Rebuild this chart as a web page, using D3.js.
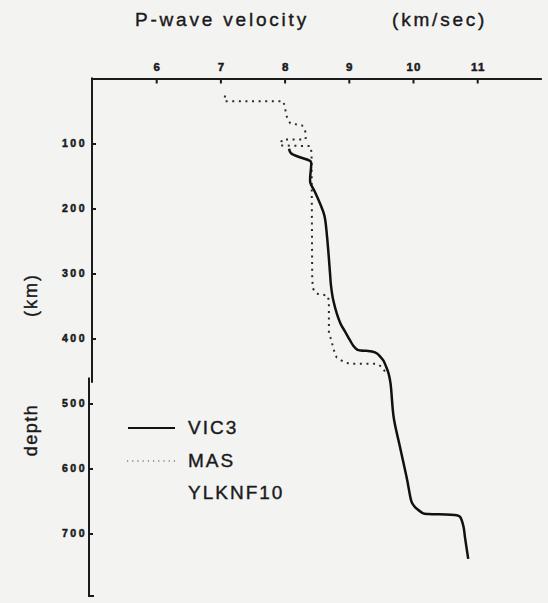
<!DOCTYPE html>
<html>
<head>
<meta charset="utf-8">
<script src="https://cdn.jsdelivr.net/npm/d3@7/dist/d3.min.js"></script>
<style>
  html, body { margin: 0; padding: 0; background: #f3f3f2; }
  svg { display: block; }
  text { font-family: "Liberation Sans", Arial, sans-serif; fill: #1a1a1a; }
</style>
</head>
<body>
<svg id="chart" width="548" height="603"></svg>
<script>
// ---- data ----
const xTicks = [6, 7, 8, 9, 10, 11];
const yTicksUpper = [100, 200, 300, 400];
const yTicksLower = [500, 600, 700];

const vic3Velocity = [8.07, 8.10, 8.38, 8.41, 8.40, 8.46, 8.55, 8.62, 8.66, 8.71, 8.72, 8.76, 8.87, 8.94, 9.02, 9.07, 9.13, 9.19, 9.28, 9.36, 9.44, 9.49, 9.54, 9.58, 9.62, 9.65, 9.70, 9.80, 9.91, 9.93, 9.98, 10.02, 10.06, 10.16, 10.24, 10.68, 10.73, 10.76, 10.79, 10.81, 10.86];
const vic3Depth    = [108, 115, 126, 128, 160, 172, 192, 211, 242, 303, 316, 342, 377, 389, 403, 411, 417, 418.5, 419, 420, 423, 428, 434, 443, 454, 469, 522, 568, 618, 629, 652, 658, 662, 669, 670, 672, 674, 680, 691, 706, 739];

const masVelocity = [7.07, 7.07, 7.98, 8.01, 8.02, 8.06, 8.09, 8.27, 8.32, 8.33, 8.32, 7.96, 7.93, 8.40, 8.42, 8.43, 8.44, 8.50, 8.67, 8.69, 8.69, 8.73, 8.76, 8.81, 8.92, 9.02, 9.44, 9.52, 9.57];
const masDepth    = [26, 35, 35, 46, 55, 65, 69, 72, 80, 91, 94, 94, 103, 104, 114, 306, 323, 331, 334, 342, 392, 403, 416, 429, 436, 439, 439, 444, 452];

const legendLabels = ["VIC3", "MAS", "YLKNF10"];

// ---- chart ----
const svg = d3.select("#chart");
const x = d3.scaleLinear().domain([5, 12]).range([92, 541.4]);
const y = d3.scaleLinear().domain([0, 800]).range([78.5, 598.5]);

const ink = "#1a1a1a";

// top axis
const gx = svg.append("g").attr("transform", `translate(0,${y(0)})`)
  .call(d3.axisTop(x).tickValues(xTicks).tickSizeInner(-5).tickSizeOuter(0).tickPadding(8).tickFormat(d3.format("d")));
gx.select(".domain").attr("stroke", ink).attr("stroke-width", 2);
gx.selectAll(".tick line").attr("stroke", ink).attr("stroke-width", 2);
gx.selectAll(".tick text").attr("fill", ink).attr("stroke", ink).attr("stroke-width", 0.5)
  .style("font-size", "11.5px").style("font-weight", "bold")
  .style("letter-spacing", "1px").attr("dx", "0.5px");

// left axis, upper piece
const gyU = svg.append("g").attr("transform", `translate(92,0)`)
  .call(d3.axisLeft(y).tickValues(yTicksUpper).tickSizeInner(-4).tickSizeOuter(0).tickPadding(5).tickFormat(d3.format("d")));
gyU.select(".domain").remove();
svg.append("line").attr("x1", 92).attr("x2", 92).attr("y1", y(0) - 1).attr("y2", y(468))
  .attr("stroke", ink).attr("stroke-width", 2);

// left axis, lower piece (slightly offset, as in the paste-up)
const gyL = svg.append("g").attr("transform", `translate(89,0)`)
  .call(d3.axisLeft(y).tickValues(yTicksLower).tickSizeInner(-4).tickSizeOuter(0).tickPadding(2).tickFormat(d3.format("d")));
gyL.select(".domain").remove();
svg.append("path")
  .attr("d", `M89,${y(460)} L89,${y(796)} L94,${y(796)}`)
  .attr("fill", "none").attr("stroke", ink).attr("stroke-width", 2);

[gyU, gyL].forEach(g => {
  g.selectAll(".tick line").attr("stroke", ink).attr("stroke-width", 2);
  g.selectAll(".tick text").attr("fill", ink).attr("stroke", ink).attr("stroke-width", 0.5)
    .style("font-size", "10.5px").style("font-weight", "bold")
    .style("letter-spacing", "2.5px");
});

// curves
const line = d3.line().x(d => x(d[0])).y(d => y(d[1]));
const smooth = d3.line().x(d => x(d[0])).y(d => y(d[1])).curve(d3.curveCatmullRom.alpha(0.5));
const vic3 = vic3Velocity.map((v, i) => [v, vic3Depth[i]]);
const mas = masVelocity.map((v, i) => [v, masDepth[i]]);

svg.append("path").datum(mas).attr("d", line)
  .attr("fill", "none").attr("stroke", "#2a2a2a").attr("stroke-width", 2)
  .attr("stroke-dasharray", "2,4.6").attr("stroke-linecap", "butt");

svg.append("path").datum(vic3).attr("d", smooth)
  .attr("fill", "none").attr("stroke", "#111").attr("stroke-width", 2.5)
  .attr("stroke-linejoin", "round");

// legend
svg.append("line").attr("x1", 128).attr("x2", 175).attr("y1", 428).attr("y2", 428)
  .attr("stroke", "#111").attr("stroke-width", 2.2);
svg.append("line").attr("x1", 127).attr("x2", 178).attr("y1", 461).attr("y2", 461)
  .attr("stroke", "#444").attr("stroke-width", 1.2).attr("stroke-dasharray", "1.2,4");
legendLabels.forEach((t, i) => {
  svg.append("text").attr("x", 188).attr("y", 434 + i * 32.7).text(t)
    .attr("stroke", "#1a1a1a").attr("stroke-width", 0.4)
    .style("font-size", "19px").style("letter-spacing", "2px");
});

// titles
svg.append("text").attr("x", 135).attr("y", 26).text("P-wave velocity")
  .attr("stroke", "#1a1a1a").attr("stroke-width", 0.4)
  .style("font-size", "19px").style("letter-spacing", "2.8px");
svg.append("text").attr("x", 392).attr("y", 26).text("(km/sec)")
  .attr("stroke", "#1a1a1a").attr("stroke-width", 0.4)
  .style("font-size", "19px").style("letter-spacing", "2.8px");

svg.append("text").attr("transform", "translate(37,295) rotate(-90)").attr("text-anchor", "middle")
  .attr("stroke", "#1a1a1a").attr("stroke-width", 0.4)
  .text("(km)").style("font-size", "18px").style("letter-spacing", "2px");
svg.append("text").attr("transform", "translate(37,430) rotate(-90)").attr("text-anchor", "middle")
  .attr("stroke", "#1a1a1a").attr("stroke-width", 0.4)
  .text("depth").style("font-size", "18px").style("letter-spacing", "1.5px");
</script>
</body>
</html>
